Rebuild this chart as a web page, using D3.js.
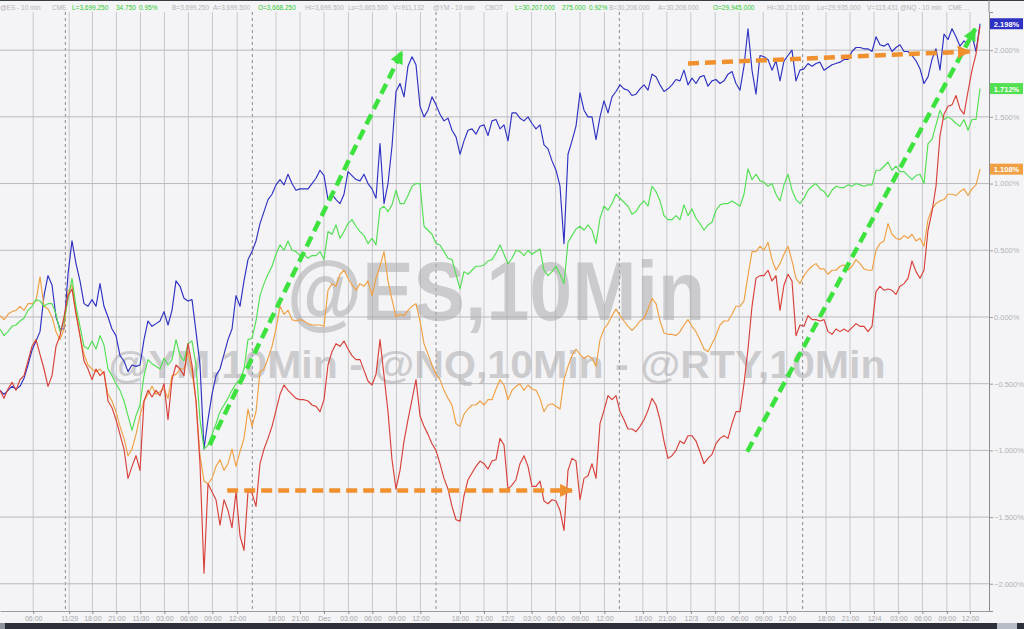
<!DOCTYPE html>
<html>
<head>
<meta charset="utf-8">
<script src="https://cdn.jsdelivr.net/npm/d3@7"></script>
<style>
html, body { margin: 0; padding: 0; background: #f4f4f6; }
svg { display: block; font-family: "Liberation Sans", Arial, sans-serif; }
</style>
</head>
<body>
<svg id="chart" width="1024" height="629"></svg>
<script>
// 10 min futures, % change, one value every half hour of chart time
const STEP_HOURS = 0.5;

const esValues = [
  -0.55, -0.58, -0.55, -0.52, -0.54, -0.52, -0.46, -0.36, -0.25, -0.18, -0.11, 0.16, 0.31, 0.24, 0.0, -0.09, -0.09, 0.32, 0.57, 0.40,
  0.27, 0.10, 0.08, 0.13, 0.08, 0.25, 0.08, 0.0, -0.09, -0.14, -0.29, -0.33, -0.41, -0.36, -0.37, -0.36, -0.17, -0.03, -0.07, -0.05,
  -0.03, 0.04, -0.06, 0.05, 0.27, 0.23, 0.14, 0.12, 0.13, -0.11, -0.36, -0.99, -0.77, -0.58, -0.44, -0.39, -0.28, -0.17, -0.09, 0.16,
  0.08, 0.27, 0.43,
  0.49, 0.57, 0.70, 0.79, 0.88, 0.92, 0.99, 1.03, 0.99, 1.07, 1.00, 0.95, 0.96, 0.96, 0.96, 1.00, 1.04, 1.10, 1.06, 0.88,
  0.92, 0.88, 0.85, 0.92, 1.09, 1.06, 1.03, 1.02, 1.07, 1.00, 0.96, 0.89, 1.30, 0.85, 1.00, 1.28, 1.69, 1.75, 1.65, 1.88,
  1.95, 1.89, 1.58, 1.50, 1.55, 1.65, 1.59, 1.52, 1.47, 1.49, 1.40, 1.35, 1.22, 1.32, 1.40, 1.41, 1.37, 1.43, 1.44, 1.36, 1.47,
  1.48, 1.41, 1.44, 1.32, 1.53, 1.53, 1.49, 1.47, 1.50, 1.45, 1.41, 1.44, 1.29, 1.26, 1.17, 1.10, 0.98, 0.55, 1.22, 1.32,
  1.43, 1.68, 1.55, 1.50, 1.50, 1.33, 1.50, 1.62, 1.53, 1.65, 1.69, 1.74, 1.71, 1.70, 1.66, 1.67, 1.71, 1.74, 1.70, 1.82,
  1.80, 1.74, 1.69, 1.71, 1.74, 1.78, 1.77, 1.85, 1.74, 1.79, 1.75, 1.80, 1.81, 1.73, 1.77, 1.78, 1.75, 1.77, 1.82, 1.84, 1.75,
  1.70, 1.88, 2.16, 1.85, 1.67, 1.96, 1.95, 1.93, 1.85, 1.92, 1.77, 1.92, 1.96, 2.00, 1.77, 1.85, 1.86, 1.90, 1.88, 1.90,
  1.91, 1.85, 1.87, 1.89, 1.90, 1.91, 1.93, 1.93, 1.99, 2.02, 2.02, 2.01, 2.01, 1.99, 2.10, 2.04, 2.03, 2.05, 1.99, 2.02,
  2.04, 1.99, 1.99, 1.96, 1.92, 1.86, 1.75, 1.80, 1.93, 2.01, 1.85, 2.12, 2.08, 2.16, 2.10, 2.03, 2.07, 2.04, 2.11, 1.99, 2.198
];

const nqValues = [
  -0.09, -0.14, -0.11, -0.07, -0.06, -0.03, -0.01, 0.05, 0.08, 0.13, 0.12, 0.08, 0.10, 0.10, 0.02, -0.11, -0.03, 0.13, 0.29, 0.08,
  -0.07, -0.22, -0.24, -0.18, -0.24, -0.14, -0.21, -0.39, -0.44, -0.50, -0.55, -0.63, -0.74, -0.85, -0.74, -0.66, -0.44, -0.32, -0.35, -0.37,
  -0.39, -0.31, -0.36, -0.32, -0.17, -0.29, -0.33, -0.20, -0.18, -0.36, -0.77, -0.99, -0.96, -0.88, -0.80, -0.71, -0.66, -0.61, -0.55, -0.50,
  -0.47, -0.39, -0.17,
  -0.16, -0.03, 0.16, 0.25, 0.32, 0.38, 0.47, 0.54, 0.50, 0.57, 0.50, 0.49, 0.46, 0.47, 0.44, 0.46, 0.46, 0.49, 0.43, 0.64,
  0.62, 0.69, 0.59, 0.64, 0.70, 0.73, 0.68, 0.64, 0.61, 0.55, 0.59, 0.54, 0.81, 0.83, 0.79, 0.84, 0.95, 0.85, 0.85, 0.91,
  0.98, 1.00, 1.00, 0.68, 0.65, 0.62, 0.55, 0.54, 0.49, 0.44, 0.43, 0.32, 0.21, 0.34, 0.32, 0.35, 0.38, 0.38, 0.39, 0.42, 0.43,
  0.48, 0.54, 0.47, 0.40, 0.44, 0.50, 0.49, 0.46, 0.50, 0.47, 0.49, 0.51, 0.35, 0.31, 0.34, 0.38, 0.32, 0.25, 0.56, 0.61,
  0.66, 0.68, 0.65, 0.69, 0.65, 0.55, 0.74, 0.83, 0.80, 0.85, 0.92, 0.89, 0.86, 0.83, 0.77, 0.79, 0.84, 0.87, 0.83, 0.98,
  0.94, 0.87, 0.76, 0.73, 0.73, 0.76, 0.73, 0.84, 0.76, 0.81, 0.74, 0.70, 0.65, 0.69, 0.71, 0.80, 0.84, 0.85, 0.85, 0.87, 0.85,
  0.83, 0.92, 1.11, 1.03, 1.07, 1.02, 1.01, 0.98, 1.00, 0.92, 0.87, 0.99, 1.07, 0.95, 0.88, 0.85, 0.89, 0.95, 0.98, 1.00,
  0.96, 0.94, 0.90, 0.95, 0.98, 0.97, 0.97, 0.99, 0.98, 1.00, 0.99, 0.98, 0.99, 0.99, 1.10, 1.10, 1.13, 1.16, 1.10, 1.13,
  1.09, 1.09, 1.06, 1.03, 1.06, 1.07, 1.00, 1.30, 1.33, 1.44, 1.55, 1.48, 1.50, 1.48, 1.45, 1.43, 1.48, 1.40, 1.48, 1.48, 1.712
];

const ymValues = [
  0.01, -0.02, 0.02, 0.04, 0.05, 0.08, 0.05, 0.10, 0.10, 0.12, 0.30, 0.08, 0.06, 0.0, -0.11, -0.17, -0.09, 0.19, 0.24, 0.05,
  -0.14, -0.28, -0.36, -0.39, -0.41, -0.39, -0.43, -0.58, -0.63, -0.71, -0.82, -0.91, -1.04, -0.99, -0.88, -0.74, -0.63, -0.58, -0.52, -0.58,
  -0.56, -0.54, -0.61, -0.44, -0.43, -0.39, -0.39, -0.26, -0.41, -0.63, -1.04, -1.23, -1.25, -1.21, -1.12, -1.07, -1.15, -1.10, -0.99, -1.12,
  -1.01, -0.91, -0.69,
  -0.82, -0.71, -0.41, -0.39, -0.31, -0.22, -0.09, 0.08, 0.02, 0.05, -0.02, -0.03, -0.02, -0.03, -0.05, -0.06, -0.06, -0.06, -0.07, 0.20,
  0.25, 0.23, 0.32, 0.35, 0.29, 0.24, 0.20, 0.25, 0.23, 0.27, 0.16, 0.29, 0.38, 0.49, 0.27, 0.13, 0.0, 0.02, 0.01, 0.05,
  0.08, 0.10, -0.03, -0.20, -0.28, -0.36, -0.43, -0.47, -0.55, -0.61, -0.66, -0.80, -0.82, -0.73, -0.69, -0.66, -0.66, -0.63, -0.66, -0.62, -0.62,
  -0.54, -0.47, -0.51, -0.62, -0.55, -0.52, -0.50, -0.55, -0.51, -0.54, -0.55, -0.61, -0.71, -0.66, -0.65, -0.67, -0.69, -0.47, -0.37, -0.29,
  -0.24, -0.28, -0.31, -0.29, -0.31, -0.37, -0.17, -0.09, -0.05, 0.01, 0.06, 0.01, -0.03, -0.07, -0.10, -0.07, -0.03, -0.01, 0.06, 0.14,
  0.10, -0.03, -0.12, -0.13, -0.13, -0.14, -0.11, -0.06, -0.02, -0.07, -0.11, -0.17, -0.24, -0.26, -0.20, -0.14, -0.06, -0.03, -0.03, 0.02, 0.08,
  0.08, 0.12, 0.31, 0.49, 0.49, 0.53, 0.50, 0.56, 0.43, 0.35, 0.40, 0.47, 0.53, 0.42, 0.29, 0.25, 0.31, 0.35, 0.38, 0.40,
  0.36, 0.36, 0.32, 0.35, 0.35, 0.38, 0.39, 0.35, 0.38, 0.43, 0.40, 0.36, 0.35, 0.35, 0.50, 0.55, 0.57, 0.70, 0.62, 0.59,
  0.58, 0.61, 0.59, 0.62, 0.57, 0.59, 0.53, 0.73, 0.81, 0.85, 0.87, 0.88, 0.92, 0.92, 0.91, 0.94, 0.96, 0.91, 0.96, 0.99, 1.108
];

const rtyValues = [
  -0.55, -0.61, -0.54, -0.49, -0.55, -0.47, -0.44, -0.33, -0.22, -0.17, -0.28, -0.39, -0.52, -0.44, -0.22, -0.14, 0.0, 0.16, 0.21, 0.02,
  -0.14, -0.33, -0.39, -0.47, -0.39, -0.44, -0.41, -0.63, -0.68, -0.77, -0.88, -0.99, -1.21, -1.12, -1.04, -1.15, -0.63, -0.55, -0.60, -0.55,
  -0.59, -0.50, -0.77, -0.47, -0.36, -0.39, -0.44, -0.20, -0.36, -0.63, -1.10, -1.92, -1.25, -1.31, -1.37, -1.56, -1.37, -1.45, -1.58, -1.31,
  -1.64, -1.75, -1.31,
  -1.32, -1.42, -1.10, -0.99, -0.91, -0.82, -0.70, -0.58, -0.51, -0.55, -0.58, -0.61, -0.62, -0.62, -0.63, -0.66, -0.67, -0.71, -0.62, -0.36,
  -0.26, -0.20, -0.22, -0.18, -0.24, -0.29, -0.32, -0.32, -0.40, -0.48, -0.51, -0.43, -0.17, -0.44, -0.71, -1.07, -1.29, -1.15, -0.93, -0.77,
  -0.62, -0.47, -0.74, -0.82, -0.88, -0.95, -1.00, -1.10, -1.21, -1.29, -1.42, -1.52, -1.53, -1.34, -1.22, -1.17, -1.12, -1.08, -1.10, -1.14, -1.08,
  -1.07, -0.91, -0.96, -1.29, -1.26, -1.22, -1.10, -1.04, -1.12, -1.27, -1.27, -1.23, -1.38, -1.40, -1.37, -1.38, -1.45, -1.60, -1.15, -1.06,
  -1.08, -1.37, -1.21, -1.19, -1.10, -1.21, -0.80, -0.70, -0.59, -0.62, -0.59, -0.71, -0.77, -0.84, -0.84, -0.86, -0.82, -0.77, -0.70, -0.61,
  -0.66, -0.77, -0.93, -1.06, -1.04, -1.00, -0.93, -0.95, -0.89, -0.89, -0.93, -1.01, -1.10, -1.06, -1.03, -0.95, -0.91, -0.89, -0.91, -0.80, -0.71,
  -0.71, -0.50, -0.24, 0.08, 0.29, 0.31, 0.31, 0.35, 0.27, 0.31, 0.05, 0.24, 0.32, 0.27, -0.14, -0.06, -0.07, 0.01, -0.02, -0.02,
  -0.03, -0.02, -0.11, -0.13, -0.09, -0.11, -0.09, -0.11, -0.08, -0.05, -0.07, -0.07, -0.11, -0.07, 0.19, 0.23, 0.20, 0.21, 0.20, 0.17,
  0.23, 0.25, 0.29, 0.42, 0.34, 0.29, 0.35, 0.65, 0.79, 0.98, 1.36, 1.52, 1.58, 1.59, 1.66, 1.56, 1.52, 1.69, 1.85, 1.97, 2.18
];

// bottom axis, in chart hours (session gaps removed)
const tickLabels = ["06:00", "11/29", "18:00", "21:00", "11/30", "03:00", "06:00", "09:00", "12:00",
  "18:00", "21:00", "Dec", "03:00", "06:00", "09:00", "12:00",
  "18:00", "21:00", "12/2", "03:00", "06:00", "09:00", "12:00",
  "18:00", "21:00", "12/3", "03:00", "06:00", "09:00", "12:00",
  "18:00", "21:00", "12/4", "03:00", "06:00", "09:00", "12:00"];
const tickHours = [4.15, 8.65, 11.55, 14.55, 17.55, 20.55, 23.55, 26.55, 29.65,
  34.5, 37.5, 40.5, 43.55, 46.55, 49.55, 52.55,
  57.5, 60.5, 63.4, 66.45, 69.45, 72.5, 75.55,
  80.35, 83.35, 86.35, 89.4, 92.4, 95.4, 98.35,
  103.25, 106.25, 109.25, 112.3, 115.3, 118.35, 121.25];
const sessionBreakHours = [8.17, 31.54, 54.5, 77.42, 100.33];
const yTicks = [-2, -1.5, -1, -0.5, 0, 0.5, 1, 1.5, 2];

// hand drawn trend arrows (hours, %)
const greenArrows = [[[26.2, -0.96], [50.25, 1.99]], [[93.4, -1.01], [121.9, 2.16]]];
const orangeArrows = [[[28.4, -1.30], [71.5, -1.30]], [[86.0, 1.90], [121.2, 1.99]]];

const headerItems = [
  ["@ES - 10 min", 0, false], ["CME", 52, false], ["L=3,699.250", 72, true], ["34.750", 116, true], ["0.95%", 139, true],
  ["B=3,699.250", 172, false], ["A=3,699.500", 213, false], ["O=3,668.250", 258, true], ["Hi=3,699.500", 305, false],
  ["Lo=3,665.500", 348, false], ["V=911,132", 393, false], ["@YM - 10 min", 433, false], ["CBOT", 485, false],
  ["L=30,207.000", 515, true], ["275.000", 562, true], ["0.92%", 589, true], ["B=30,206.000", 609, false],
  ["A=30,208.000", 658, false], ["O=29,945.000", 713, true], ["Hi=30,213.000", 767, false], ["Lo=29,935.000", 817, false],
  ["V=115,431", 867, false], ["@NQ - 10 min", 900, false], ["CME ...", 948, false]
];

const series = [
  {name: "ES", values: esValues, color: "#2f31c2", label: true},
  {name: "YM", values: ymValues, color: "#f0a043", label: true},
  {name: "NQ", values: nqValues, color: "#52df52", label: true},
  {name: "RTY", values: rtyValues, color: "#d8403a", label: false}
];

const W = 1024, H = 629;
const plotRight = 989, plotTop = 12, plotBottom = 611;

const svg = d3.select("#chart");
const x = d3.scaleLinear().domain([0, 123.625]).range([0, plotRight]);
const y = d3.scaleLinear().domain([-2.204, 2.286]).range([plotBottom, plotTop]);

svg.append("rect").attr("width", W).attr("height", H).attr("fill", "#f4f4f6");

// grid
svg.append("g").selectAll("line")
  .data(tickHours)
  .join("line")
  .attr("x1", d => x(d)).attr("x2", d => x(d))
  .attr("y1", plotTop).attr("y2", plotBottom)
  .attr("stroke", "#c9c9cc").attr("stroke-width", 1);

svg.append("g").selectAll("line")
  .data(sessionBreakHours)
  .join("line")
  .attr("x1", d => x(d)).attr("x2", d => x(d))
  .attr("y1", plotTop).attr("y2", plotBottom)
  .attr("stroke", "#8a8a8f").attr("stroke-width", 1)
  .attr("stroke-dasharray", "3,3");

svg.append("g").selectAll("line")
  .data(yTicks)
  .join("line")
  .attr("x1", 0).attr("x2", plotRight)
  .attr("y1", d => y(d)).attr("y2", d => y(d))
  .attr("stroke", "#b9b9bd").attr("stroke-width", 1);

// watermark
const wm = svg.append("g").attr("fill", "#a9a9ad").attr("fill-opacity", 0.55)
  .attr("font-weight", "bold").attr("text-anchor", "middle");
wm.append("text")
  .attr("x", 496).attr("y", 320)
  .attr("font-size", 84)
  .attr("textLength", 418).attr("lengthAdjust", "spacingAndGlyphs")
  .text("@ES,10Min");
wm.append("text")
  .attr("x", 497).attr("y", 378)
  .attr("font-size", 39)
  .attr("textLength", 777).attr("lengthAdjust", "spacingAndGlyphs")
  .text("@YM,10Min - @NQ,10Min - @RTY,10Min");

// lines
const line = d3.line()
  .x((d, i) => x(i * STEP_HOURS))
  .y(d => y(d));

svg.append("g").selectAll("path")
  .data(series)
  .join("path")
  .attr("d", d => line(d.values))
  .attr("fill", "none")
  .attr("stroke", d => d.color)
  .attr("stroke-width", 1.15)
  .attr("stroke-linejoin", "round");

// arrows
const defs = svg.append("defs");
function addMarker(id, color) {
  defs.append("marker")
    .attr("id", id)
    .attr("markerUnits", "userSpaceOnUse")
    .attr("viewBox", "0 0 12 12")
    .attr("markerWidth", 13).attr("markerHeight", 13)
    .attr("refX", 11).attr("refY", 6)
    .attr("orient", "auto")
    .append("path")
    .attr("d", "M0,0 L12,6 L0,12 Z")
    .attr("fill", color);
}
addMarker("headGreen", "#3ee23e");
addMarker("headOrange", "#f0902e");

function drawArrows(list, color, marker) {
  svg.append("g").selectAll("line")
    .data(list)
    .join("line")
    .attr("x1", d => x(d[0][0])).attr("y1", d => y(d[0][1]))
    .attr("x2", d => x(d[1][0])).attr("y2", d => y(d[1][1]))
    .attr("stroke", color)
    .attr("stroke-width", 4.5)
    .attr("stroke-dasharray", "11,6")
    .attr("marker-end", `url(#${marker})`);
}
drawArrows(greenArrows, "#3ee23e", "headGreen");
drawArrows(orangeArrows, "#f0902e", "headOrange");

// header
svg.append("rect").attr("x", 0).attr("y", 0).attr("width", W).attr("height", plotTop).attr("fill", "#f4f4f6");
svg.append("rect").attr("x", 0).attr("y", 0).attr("width", W).attr("height", 1).attr("fill", "#3a3c44");
svg.append("g").selectAll("text")
  .data(headerItems)
  .join("text")
  .attr("x", d => d[1]).attr("y", 9.5)
  .attr("font-size", 6.5)
  .attr("font-weight", "normal")
  .attr("fill", d => d[2] ? "#2fc92f" : "#b3b3b8")
  .text(d => d[0]);
svg.append("line").attr("x1", plotRight).attr("x2", plotRight).attr("y1", 0).attr("y2", plotTop)
  .attr("stroke", "#8a8a8f");

// axes
const yAxis = svg.append("g")
  .attr("transform", `translate(${plotRight},0)`)
  .call(d3.axisRight(y).tickValues(yTicks).tickSize(4).tickPadding(1)
    .tickFormat(d => d3.format(".3f")(d) + "%"));
yAxis.select(".domain").attr("stroke", "#8a8a8f");
yAxis.selectAll(".tick line").attr("stroke", "#9a9aa0");
yAxis.selectAll(".tick text").attr("fill", "#b3b3b8").attr("font-size", 7.5)
  .attr("font-family", "'Liberation Sans', Arial, sans-serif");

const xAxis = svg.append("g")
  .attr("transform", `translate(0,${plotBottom})`)
  .call(d3.axisBottom(x).tickValues(tickHours).tickSize(3).tickSizeOuter(0).tickPadding(2)
    .tickFormat((d, i) => tickLabels[i]));
xAxis.select(".domain").attr("stroke", "#9a9aa0");
xAxis.selectAll(".tick line").attr("stroke", "#8a8a8f");
xAxis.selectAll(".tick text").attr("fill", "#a6a6ab").attr("font-size", 7)
  .attr("font-family", "'Liberation Sans', Arial, sans-serif");

// last value labels
const lab = svg.append("g").selectAll("g")
  .data(series.filter(s => s.label))
  .join("g")
  .attr("transform", d => `translate(${plotRight + 1},${y(d.values[d.values.length - 1])})`);
lab.append("rect")
  .attr("x", 0).attr("y", -5.5).attr("width", 33).attr("height", 11)
  .attr("fill", d => d.color);
lab.append("text")
  .attr("x", 16.5).attr("y", 3)
  .attr("text-anchor", "middle")
  .attr("font-size", 7.5).attr("font-weight", "bold")
  .attr("fill", "#ffffff")
  .text(d => d3.format(".3f")(d.values[d.values.length - 1]) + "%");

// bottom bar
svg.append("rect").attr("x", 0).attr("y", 623).attr("width", W).attr("height", 6).attr("fill", "#2d3038");
svg.append("rect").attr("x", 997).attr("y", 623).attr("width", 20).attr("height", 6).attr("fill", "#b7bcc7");
svg.append("rect").attr("x", 0).attr("y", 623).attr("width", 5).attr("height", 6).attr("fill", "#8d929c");
</script>
</body>
</html>
